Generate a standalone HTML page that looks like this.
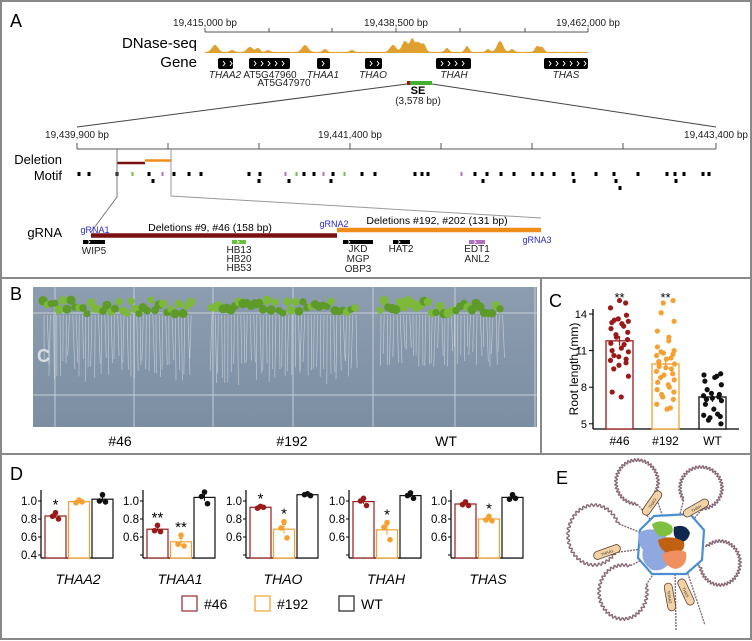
<!DOCTYPE html>
<html><head><meta charset="utf-8"><style>
html,body{margin:0;padding:0;background:#fff}
svg{display:block;font-family:"Liberation Sans",Arial,sans-serif}
</style></head><body>
<svg id="fig" width="752" height="641" viewBox="0 0 752 641" xmlns="http://www.w3.org/2000/svg">
<defs>
<linearGradient id="plate" x1="0" y1="0" x2="0" y2="1"><stop offset="0" stop-color="#8d9db0"/><stop offset="1" stop-color="#7b8ea2"/></linearGradient>
</defs>
<rect x="1" y="1" width="750" height="638" fill="none" stroke="#888" stroke-width="2"/>
<line x1="1" y1="278" x2="751" y2="278" stroke="#888" stroke-width="2"/>
<line x1="1" y1="454" x2="751" y2="454" stroke="#888" stroke-width="2"/>
<line x1="541" y1="278" x2="541" y2="454" stroke="#888" stroke-width="2"/>

<g id="panelA">
<text x="10" y="27" font-size="18">A</text>
<g font-size="10" text-anchor="middle" fill="#222">
<text x="205" y="26">19,415,000 bp</text>
<text x="396" y="26">19,438,500 bp</text>
<text x="588" y="26">19,462,000 bp</text>
</g>
<g id="topAxis" stroke="#555" stroke-width="1"></g>
<text x="197" y="48" font-size="15" text-anchor="end">DNase-seq</text>
<path id="dnase" fill="#e0a030"/>
<text x="197" y="67" font-size="15" text-anchor="end">Gene</text>
<g id="genes"></g>
<g font-size="10" font-style="italic" text-anchor="middle" fill="#222">
<text x="225" y="78">THAA2</text>
<text x="323" y="78">THAA1</text>
<text x="373" y="78">THAO</text>
<text x="454" y="78">THAH</text>
<text x="566" y="78">THAS</text>
</g>
<g font-size="10" text-anchor="middle" fill="#222">
<text x="270" y="78">AT5G47960</text>
<text x="284" y="86">AT5G47970</text>
</g>
<rect x="407" y="81" width="25" height="4" fill="#44b030"/>
<rect x="407" y="81" width="3" height="4" fill="#a01010"/>
<text x="418" y="94" font-size="11" font-weight="bold" text-anchor="middle">SE</text>
<text x="418" y="104" font-size="10" text-anchor="middle" fill="#222">(3,578 bp)</text>
<line x1="407" y1="84" x2="77" y2="127" stroke="#444"/>
<line x1="432" y1="84" x2="716" y2="127" stroke="#444"/>
<g font-size="10" text-anchor="middle" fill="#222">
<text x="77" y="138">19,439,900 bp</text>
<text x="350" y="138">19,441,400 bp</text>
<text x="716" y="138">19,443,400 bp</text>
</g>
<g id="se-axis" stroke="#555"></g>
<text x="62" y="164" font-size="13" text-anchor="end">Deletion</text>
<line x1="117" y1="163" x2="145" y2="163" stroke="#7a1010" stroke-width="2.5"/>
<line x1="145" y1="160.5" x2="171" y2="160.5" stroke="#f08c1a" stroke-width="2.5"/>
<text x="62" y="180" font-size="13" text-anchor="end">Motif</text>
<g id="motifs"></g>
<polyline points="117,149 117,197 91,232" fill="none" stroke="#777"/>
<polyline points="171,149 171,196 541,218" fill="none" stroke="#999"/>
<text x="62" y="237" font-size="13" text-anchor="end">gRNA</text>
<line x1="91" y1="235.5" x2="337" y2="235.5" stroke="#7a1010" stroke-width="4.5"/>
<line x1="337" y1="230" x2="541" y2="230" stroke="#f08c1a" stroke-width="4.5"/>
<text x="210" y="231" font-size="10.5" text-anchor="middle">Deletions #9, #46 (158 bp)</text>
<text x="437" y="224" font-size="10.5" text-anchor="middle">Deletions #192, #202 (131 bp)</text>
<g font-size="9" fill="#2a2ad0" text-anchor="middle">
<text x="95" y="233">gRNA1</text>
<text x="334" y="227">gRNA2</text>
<text x="537" y="243">gRNA3</text>
</g>
<g id="bsites"></g>
<g font-size="10" text-anchor="middle" fill="#222">
<text x="94" y="254">WIP5</text>
<text x="239" y="253">HB13</text>
<text x="239" y="262">HB20</text>
<text x="239" y="271">HB53</text>
<text x="358" y="252">JKD</text>
<text x="358" y="262">MGP</text>
<text x="358" y="272">OBP3</text>
<text x="401" y="252">HAT2</text>
<text x="477" y="252">EDT1</text>
<text x="477" y="262">ANL2</text>
</g>
</g>

<g id="panelB">
<rect x="33" y="287" width="504" height="140" fill="url(#plate)"/>
<g id="photo"></g>
<text x="10" y="300" font-size="18">B</text>
<g font-size="14" text-anchor="middle">
<text x="120" y="446">#46</text>
<text x="292" y="446">#192</text>
<text x="446" y="446">WT</text>
</g>
</g>

<g id="panelC">
<text x="549" y="307" font-size="18">C</text>
<text transform="translate(578,369) rotate(-90)" font-size="12" text-anchor="middle">Root length (mm)</text>
<g id="chartC"></g>
</g>

<g id="panelD">
<text x="10" y="480" font-size="18">D</text>
<g id="chartD"></g>
<g id="legend" font-size="14">
<rect x="182" y="596" width="15" height="15" fill="#fff" stroke="#9a2a2a" stroke-width="1.2"/>
<text x="204" y="609">#46</text>
<rect x="255" y="596" width="15" height="15" fill="#fff" stroke="#f5a030" stroke-width="1.2"/>
<text x="277" y="609">#192</text>
<rect x="339" y="596" width="15" height="15" fill="#fff" stroke="#222" stroke-width="1.2"/>
<text x="361" y="609">WT</text>
</g>
</g>

<g id="panelE">
<text x="556" y="484" font-size="18">E</text>
<g id="flower"></g>
</g>
</svg>
<script>
// ---- Panel C data ----
const cGroups = ["#46", "#192", "WT"];
const cMeans = [11.8, 9.9, 7.2];
const cPts46 = [15.1,14.9,14.5,13.9,13.6,13.5,13.4,13.3,13.2,13.0,12.8,12.5,12.3,12.1,11.9,11.6,11.5,11.2,11.0,10.9,10.6,10.5,10.3,10.2,10.0,9.8,9.5,8.9,7.6,7.2];
const cPts192 = [15.1,14.9,14.1,13.4,12.6,12.1,11.8,11.3,11.0,10.9,10.8,10.7,10.6,10.4,10.3,10.1,9.9,9.7,9.6,9.5,9.3,9.1,9.0,8.8,8.6,8.4,8.2,8.0,7.8,7.6,7.4,7.2,7.0,6.6,6.3,6.2];
const cPtsWT = [9.1,9.0,8.9,8.8,8.5,8.2,7.8,7.5,7.4,7.3,7.2,7.1,7.0,6.9,6.6,6.2,5.8,5.7,5.6,5.5,5.3,5.0];
const cTicks = [5, 8, 11, 14];
const cStars = ["**", "**", ""];
// ---- Panel D data ----
const dGenes = ["THAA2","THAA1","THAO","THAH","THAS"];
const dPts46 = [[0.87,0.83,0.80],[0.73,0.67,0.66],[0.94,0.92,0.93],[1.03,1.00,0.95],[0.99,0.96,0.95]];
const dPts192 = [[1.01,0.98,0.99],[0.62,0.52,0.50],[0.77,0.70,0.59],[0.76,0.71,0.57],[0.83,0.79,0.78]];
const dPtsWT = [[1.07,1.00,0.99],[1.10,1.05,0.97],[1.08,1.07,1.06],[1.09,1.06,1.03],[1.07,1.02,1.03]];
const dStars46 = ["*","**","*","",""];
const dStars192 = ["","**","*","*","*"];
const dTicks = [0.4, 0.6, 0.8, 1.0];

const NS = "http://www.w3.org/2000/svg";
function mk(parent, tag, attrs, text){
  const e = document.createElementNS(NS, tag);
  for (const k in attrs) e.setAttribute(k, attrs[k]);
  if (text !== undefined) e.textContent = text;
  parent.appendChild(e);
  return e;
}

(function(){
  const ax = document.getElementById('topAxis');
  let l = mk(ax,'line',{x1:205,y1:32,x2:588,y2:32});
  
  
  [205,269,332,396,460,525,588].forEach(x=>{
    const t = mk(ax,'line',{x1:x,y1:28,x2:x,y2:32});
    
    
  });
  const ax2 = document.getElementById('se-axis');
  l = mk(ax2,'line',{x1:77,y1:149,x2:716,y2:149});
  
  
  [77,168,259,350,441,532,623,716].forEach(x=>{
    const t = mk(ax2,'line',{x1:x,y1:143,x2:x,y2:149});
    
    
  });
  const peaks = [[215,7,3],[232,2,2],[250,5,3],[258,4,2],[268,2,2],[305,7,3],[325,3,2],[352,2,2],[393,7,3],[405,11,3],[412,12,2],[418,10,3],[424,7,2],[447,4,2],[467,6,2],[488,3,2],[500,11,3],[512,3,2],[537,6,2],[542,5,2]];
  let d = "M205,53";
  for (let x=205;x<=588;x+=1){
    let h=0.8+0.4*Math.abs(Math.sin(x*1.7));
    peaks.forEach(p=>{h+=p[1]*Math.exp(-((x-p[0])**2)/(2*p[2]*p[2]));});
    d += " L"+x+","+(53-h).toFixed(1);
  }
  d += " L588,53 Z";
  document.getElementById('dnase').setAttribute('d', d);
  const g = document.getElementById('genes');
  [[218,233,'gene-thaa2'],[249,290,'gene-at5g47960'],[317,330,'gene-thaa1'],[365,382,'gene-thao'],[436,471,'gene-thah'],[544,588,'gene-thas']].forEach(b=>{
    const r = mk(g,'rect',{x:b[0],y:58,width:b[1]-b[0],height:11,rx:2,fill:'#000'});
    
    
    for (let x=b[0]+5;x<b[1]-2;x+=7){
      mk(g,'path',{d:`M${x},61 l2,2.5 l-2,2.5`,fill:'none',stroke:'#fff','stroke-width':1});
    }
  });
  const m = document.getElementById('motifs');
  const r1 = [[79,'k'],[89,'k'],[117,'k'],[133,'g'],[149,'k'],[163,'p'],[174,'k'],[189,'k'],[201,'k'],[249,'k'],[260,'k'],[286,'p'],[297,'g'],[304,'k'],[314,'k'],[324,'p'],[333,'k'],[345,'g'],[362,'k'],[375,'k'],[415,'k'],[422,'k'],[428,'k'],[462,'p'],[475,'k'],[487,'k'],[501,'k'],[514,'k'],[533,'k'],[542,'k'],[554,'k'],[573,'k'],[596,'k'],[614,'k'],[638,'k'],[667,'k'],[675,'k'],[684,'k'],[703,'k'],[709,'k']];
  const col = {k:'#000',g:'#6ac040',p:'#b070c0'};
  r1.forEach(p=>{ mk(m,'rect',{x:p[0]-1.5,y:172,width:p[1]==='k'?3:2,height:4,fill:col[p[1]]}); });
  [153,259,289,331,483,574,616,676].forEach(x=>mk(m,'rect',{x:x-1.5,y:179,width:3,height:4,fill:'#000'}));
  mk(m,'rect',{x:618.5,y:186,width:3,height:4,fill:'#000'});
  const bs = document.getElementById('bsites');
  [[83,105,'#000','site-wip5'],[232,246,'#6ac040','site-hb13'],[343,373,'#000','site-jkd'],[393,410,'#000','site-hat2'],[469,485,'#b070c0','site-edt1']].forEach(b=>{
    const r = mk(bs,'rect',{x:b[0],y:240,width:b[1]-b[0],height:4,fill:b[2]});
    
    
    mk(bs,'path',{d:`M${b[0]+5},240.5 l2,1.5 l-2,1.5`,fill:'none',stroke:'#fff','stroke-width':0.8});
  });
})();

(function(){
  const p = document.getElementById('photo');
  [55,134,213,293,373,455,535].forEach(x=>mk(p,'line',{x1:x,y1:287,x2:x,y2:427,stroke:'#c8d0d8','stroke-width':1.2,opacity:0.8}));
  [313,395].forEach(y=>mk(p,'line',{x1:33,y1:y,x2:537,y2:y,stroke:'#c8d0d8','stroke-width':1.2,opacity:0.8}));
  mk(p,'text',{x:37,y:362,'font-size':18,fill:'#d8dde2','font-weight':'bold'},'C');
  const groups = [[40,192,387],[208,358,390],[377,503,372]];
  let s=1;
  function rnd(){ s=(s*9301+49297)%233280; return s/233280; }
  groups.forEach(gp=>{
    for (let x=gp[0]+4;x<gp[1];x+=3.2){
      const len = (gp[2]-320)*(0.6+0.4*rnd());
      mk(p,'line',{x1:x,y1:315,x2:x+(rnd()-0.5)*4,y2:315+len,stroke:'#e8ecef','stroke-width':0.7,opacity:0.6});
    }
    for (let x=gp[0]+3;x<gp[1];x+=4){
      const y = 300+rnd()*14;
      mk(p,'circle',{cx:x,cy:y,r:3.4+rnd()*1.3,fill: rnd()>0.5?'#7cb83a':'#5d9a28'});
    }
  });
})();

(function(){
  const g = document.getElementById('chartC');
  const y = v => 314 + (14 - v) * 12.2;
  const barX = [606, 652, 699], bw = 27;
  const colors = ["#9a1a1a", "#f5a030", "#111"];
  const pts = [cPts46, cPts192, cPtsWT];
  let e = mk(g,'line',{x1:593,y1:309,x2:593,y2:429,stroke:'#000','stroke-width':1.3});
  
  
  e = mk(g,'line',{x1:593,y1:429,x2:739,y2:429,stroke:'#000','stroke-width':1.3});
  
  
  cTicks.forEach(t=>{
    mk(g,'line',{x1:589,y1:y(t),x2:593,y2:y(t),stroke:'#000'});
    const tx = mk(g,'text',{x:587,y:y(t)+4,'font-size':11,'text-anchor':'end'}, String(t));
    
    
  });
  cGroups.forEach((name,i)=>{
    const bar = mk(g,'rect',{x:barX[i],y:y(cMeans[i]),width:bw,height:429-y(cMeans[i]),fill:'#fff',stroke:colors[i],'stroke-width':1.3});
    
    
    const cx = barX[i]+bw/2;
    mk(g,'line',{x1:cx,y1:y(cMeans[i]+0.4),x2:cx,y2:y(cMeans[i]-0.4),stroke:colors[i],'stroke-width':1.2});
    pts[i].forEach((v,k)=>{
      const off = Math.sin(k*2.39+i)*9;
      const c = mk(g,'circle',{cx:cx+off,cy:y(v),r:2.6,fill:colors[i]});
      
      
    });
    const lb = mk(g,'text',{x:cx,y:445,'font-size':12,'text-anchor':'middle'}, name);
    
    
    if (cStars[i]) {
      const st = mk(g,'text',{x:cx,y:302,'font-size':13,'text-anchor':'middle'}, cStars[i]);
      
      
    }
  });
})();

(function(){
  const g = document.getElementById('chartD');
  const y = v => 501 - (v - 1.0) * 90;
  const axes = [41, 143, 246, 349, 451];
  const colors = ["#9a1a1a", "#f5a030", "#111"];
  const sets = [dPts46, dPts192, dPtsWT];
  const stars = [dStars46, dStars192];
  dGenes.forEach((gene,gi)=>{
    const ax = axes[gi];
    let e = mk(g,'line',{x1:ax,y1:490,x2:ax,y2:558,stroke:'#000','stroke-width':1.2});
    
    
    e = mk(g,'line',{x1:ax,y1:558,x2:ax+72,y2:558,stroke:'#000','stroke-width':1.2});
    
    
    dTicks.forEach(t=>{
      mk(g,'line',{x1:ax-3,y1:y(t),x2:ax,y2:y(t),stroke:'#000'});
      if (gi===0 || t>0.5) {
        const tl = mk(g,'text',{x:ax-4,y:y(t)+4,'font-size':11.5,'text-anchor':'end'}, t.toFixed(1));
        
        
      }
    });
    for (let s=0;s<3;s++){
      const vals = sets[s][gi];
      const mean = vals.reduce((a,b)=>a+b,0)/vals.length;
      const sd = Math.sqrt(vals.reduce((a,b)=>a+(b-mean)**2,0)/(vals.length-1));
      const se = sd/Math.sqrt(vals.length);
      const bx = ax+4+s*23.5;
      const bar = mk(g,'rect',{x:bx,y:y(mean),width:21,height:558-y(mean),fill:'#fff',stroke:colors[s],'stroke-width':1.2});
      
      
      const cx = bx+10.5;
      mk(g,'line',{x1:cx,y1:y(mean+se),x2:cx,y2:y(mean-se),stroke:colors[s],'stroke-width':1});
      mk(g,'line',{x1:cx-2,y1:y(mean+se),x2:cx+2,y2:y(mean+se),stroke:colors[s],'stroke-width':1});
      vals.forEach((v,k)=>{
        const c = mk(g,'circle',{cx:cx+[0,-3,3][k],cy:y(v),r:2.8,fill:colors[s]});
        
        
      });
      if (s<2 && stars[s][gi]) {
        const top = Math.max(...vals, mean+se);
        const st = mk(g,'text',{x:cx,y:y(top)-3,'font-size':15,'text-anchor':'middle'}, stars[s][gi]);
        
        
      }
    }
    const lb = mk(g,'text',{x:ax+37,y:584,'font-size':14,'font-style':'italic','text-anchor':'middle'}, gene);
    
    
  });
})();

(function(){
  const f = document.getElementById('flower');
  const cx=672, cy=545;
  const loops = [[637,482,21,22],[701,488,21,21],[594,535,26,30],[720,563,20,22],[623,592,24,27]];
  loops.forEach(L=>{
    const a0 = Math.atan2(cy-L[1], cx-L[0]);
    const gap = 0.5;
    let d="";
    const N=300;
    let sx, sy, ex, ey;
    for (let i=0;i<=N;i++){
      const a = a0+gap+i/N*(2*Math.PI-2*gap);
      const w = 1.3*Math.sin(i*0.7);
      const x = L[0]+(L[2]+w)*Math.cos(a), yy = L[1]+(L[3]+w)*Math.sin(a);
      if(i===0){sx=x;sy=yy;}
      if(i===N){ex=x;ey=yy;}
      d += (i?"L":"M")+x.toFixed(1)+","+yy.toFixed(1);
    }
    const e = mk(f,'path',{d:d,fill:'none',stroke:'#8a6a78','stroke-width':1.4});
    
    
    mk(f,'line',{x1:sx,y1:sy,x2:cx+(sx-cx)*0.42,y2:cy+(sy-cy)*0.42,stroke:'#8a6a78','stroke-width':1.4,'stroke-dasharray':'2 1'});
    mk(f,'line',{x1:ex,y1:ey,x2:cx+(ex-cx)*0.42,y2:cy+(ey-cy)*0.42,stroke:'#8a6a78','stroke-width':1.4,'stroke-dasharray':'2 1'});
  });
  mk(f,'path',{d:'M675,565 L676,630',stroke:'#8a6a78','stroke-width':1.4,'stroke-dasharray':'2 1'});
  mk(f,'path',{d:'M685,565 L705,625',stroke:'#8a6a78','stroke-width':1.4,'stroke-dasharray':'2 1'});
  const hub = mk(f,'polygon',{points:'654,516 690,514 704,530 702,560 686,574 652,574 638,558 640,530',fill:'#fff',stroke:'#4a90d0','stroke-width':2.2});
  
  
  mk(f,'path',{d:'M640,532 q-4,10 3,18 q-3,12 9,20 q12,2 18,-8 q4,-16 -6,-28 q-12,-8 -24,-2z',fill:'#90a8e0'});
  mk(f,'path',{d:'M652,524 q10,-6 20,2 q3,8 -6,10 q-10,3 -14,-12z',fill:'#80c040'});
  mk(f,'path',{d:'M674,527 q12,-4 16,6 q-2,9 -10,9 q-8,-4 -6,-15z',fill:'#102850'});
  mk(f,'path',{d:'M658,540 q14,-6 26,2 q2,10 -10,12 q-14,0 -16,-14z',fill:'#c06010'});
  mk(f,'path',{d:'M662,554 q14,-6 24,-2 q2,14 -10,17 q-12,-2 -14,-15z',fill:'#f09060'});
  [[652,503,-55,'THAO'],[696,508,-30,'THAH'],[607,552,-20,'THAA1'],[670,597,80,'THAA2'],[686,592,65,'THAS']].forEach(r=>{
    const gr = mk(f,'g',{transform:`translate(${r[0]},${r[1]}) rotate(${r[2]})`});
    const e = mk(gr,'rect',{x:-14,y:-4,width:28,height:8,rx:4,fill:'#f3d2a6',stroke:'#5a4030','stroke-width':0.8});
    
    
    mk(gr,'text',{x:0,y:2,'font-size':4,'text-anchor':'middle',fill:'#333'}, r[3]);
  });
})();
</script>
</body></html>
